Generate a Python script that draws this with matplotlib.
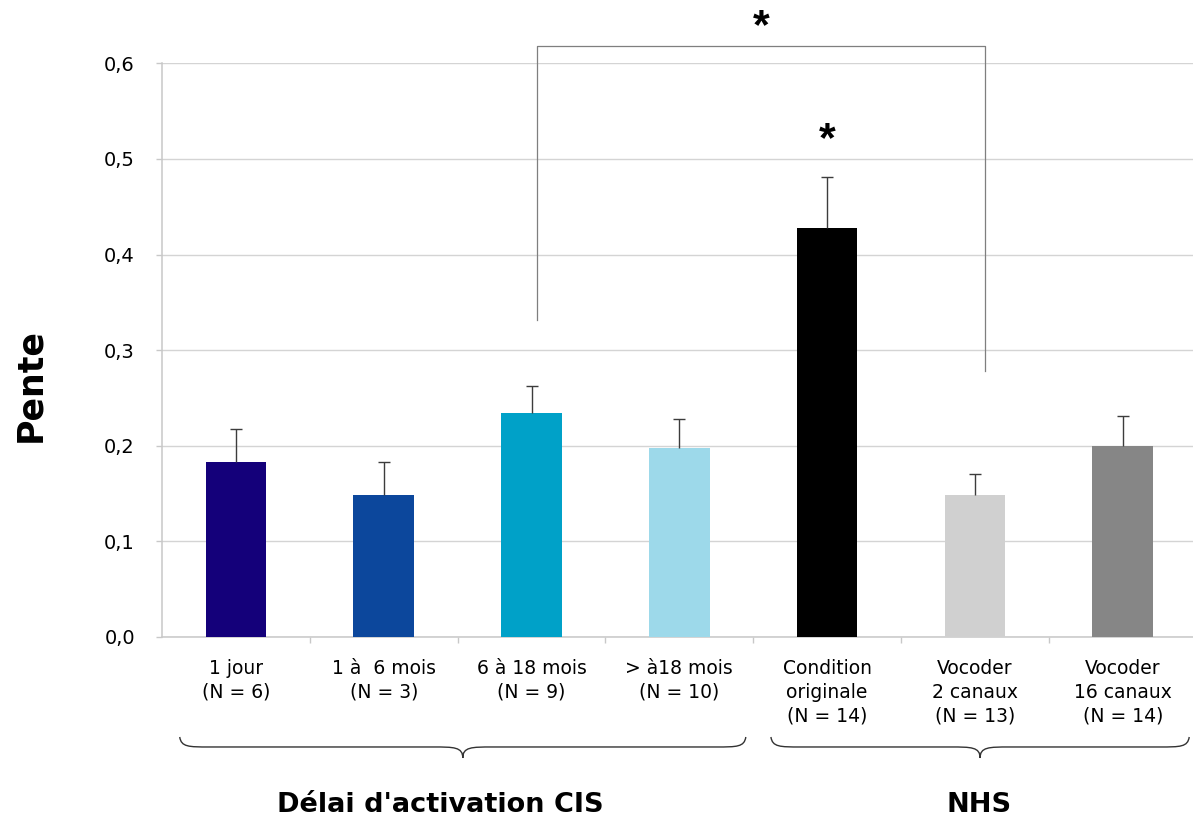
import numpy as np
import matplotlib as mpl
mpl.use('Agg')
from matplotlib import pyplot as plt
from matplotlib.path import Path
from matplotlib.patches import PathPatch

# donnees
categories = ['1 jour\n(N = 6)', '1 à  6 mois\n(N = 3)', '6 à 18 mois\n(N = 9)',
              '> à18 mois\n(N = 10)', 'Condition\noriginale\n(N = 14)',
              'Vocoder\n2 canaux\n(N = 13)', 'Vocoder\n16 canaux\n(N = 14)']
pente = [0.183, 0.148, 0.234, 0.198, 0.428, 0.148, 0.200]
erreur = [0.035, 0.035, 0.028, 0.030, 0.053, 0.022, 0.031]
couleurs = ['#14007a', '#0c479c', '#00a1c8', '#9dd9ea', '#000000', '#d0d0d0', '#868686']

groupes = ["Délai d'activation CIS", 'NHS']
groupe_debut = [0, 4]
groupe_fin = [3, 6]
groupe_label_x = [1.38, 5.03]

# comparaison significative (crochet) et etoile sur une barre
crochet_idx = (2, 5)
crochet_haut = 0.6185
crochet_bas = (0.3316, 0.278)
etoile_barre = 4

gris = '#c8c8c8'

fig = plt.figure(figsize=(11.93, 8.16), dpi=100)
ax = fig.add_axes([162/1193, 1-637/816, 1034.6/1193, 573.7/816])

x = np.arange(len(categories))
haut = np.array(pente) + np.array(erreur)
ax.bar(x, pente, width=0.41, color=couleurs, zorder=3)
# barres d'erreur vers le haut seulement
ax.vlines(x, pente, haut, color='#3c3c3c', linewidth=1.0, zorder=4)
ax.plot(x, haut, linestyle='none', marker='_', markersize=8, markeredgewidth=1.0,
        color='#3c3c3c', zorder=4)

ax.set_xlim(-0.5, len(categories)-0.5)
ax.set_ylim(0, 0.6)
yt = np.arange(0, 0.61, 0.1)
ax.set_yticks(yt, ['{:.1f}'.format(v).replace('.', ',') for v in yt], fontsize=14)
ax.yaxis.grid(True, color='#d4d4d4', linewidth=1.0, zorder=0)
ax.set_axisbelow(True)

ax.set_xticks(x, categories, fontsize=13.5, linespacing=1.3)
ax.set_xticks(np.arange(0.5, len(categories)-1, 1), minor=True)
ax.tick_params(axis='x', which='major', length=0, pad=16)
ax.tick_params(axis='x', which='minor', length=4, color=gris, width=1)
ax.tick_params(axis='y', length=4.5, color=gris, width=1, pad=15)

for s in ['top', 'right']:
    ax.spines[s].set_visible(False)
for s in ['left', 'bottom']:
    ax.spines[s].set_color(gris)
    ax.spines[s].set_linewidth(1.1)

fig.text(30/1193, 1-385/816, 'Pente', rotation=90, fontsize=25, fontweight='bold',
         ha='center', va='center')

# crochet de comparaison
xa, xb = crochet_idx[0]+0.04, crochet_idx[1]+0.07
ax.plot([xa, xa, xb, xb], [crochet_bas[0], crochet_haut, crochet_haut, crochet_bas[1]],
        color='#7f7f7f', linewidth=0.9, clip_on=False, zorder=5)
ax.text((xa+xb)/2, 0.626, '*', fontsize=31, fontweight='bold', family='Liberation Sans',
        ha='center', va='baseline', clip_on=False)
ax.text(etoile_barre, 0.508, '*', fontsize=31, fontweight='bold', family='Liberation Sans',
        ha='center', va='baseline')

# accolades sous les groupes
trans = ax.get_xaxis_transform()
y_end, y_flat, y_tip = -0.1743, -0.1917, -0.2109
r = 0.2
for d, f, nom, lx in zip(groupe_debut, groupe_fin, groupes, groupe_label_x):
    x0, x1 = d - 0.38, f + 0.45
    xm = (x0 + x1) / 2
    verts = [(x0, y_end), (x0+0.05*r, y_flat), (x0+0.3*r, y_flat), (x0+r, y_flat),
             (xm-r, y_flat),
             (xm-0.3*r, y_flat), (xm, y_flat), (xm, y_tip),
             (xm, y_flat), (xm+0.3*r, y_flat), (xm+r, y_flat),
             (x1-r, y_flat),
             (x1-0.3*r, y_flat), (x1-0.05*r, y_flat), (x1, y_end)]
    codes = [Path.MOVETO] + [Path.CURVE4]*3 + [Path.LINETO] + [Path.CURVE4]*6 + \
            [Path.LINETO] + [Path.CURVE4]*3
    ax.add_patch(PathPatch(Path(verts, codes), facecolor='none', edgecolor='#333333',
                           linewidth=1.0, transform=trans, clip_on=False))
    ax.text(lx, -0.305, nom, transform=trans, fontsize=19.5, fontweight='bold',
            ha='center', va='baseline')

fig.savefig('out.png', dpi=100)
